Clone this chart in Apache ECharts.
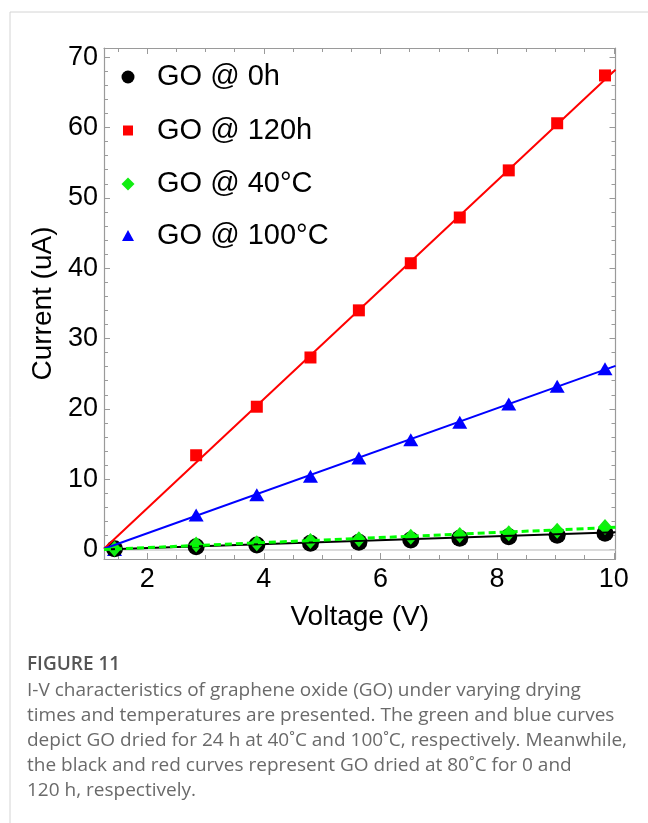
<!DOCTYPE html>
<html>
<head>
<meta charset="utf-8">
<script src="https://cdn.jsdelivr.net/npm/echarts@6/dist/echarts.min.js"></script>
<style>
html,body{margin:0;padding:0;background:#fff;}
#chart{width:648px;height:823px;}
</style>
</head>
<body>
<div id="chart"></div>
<script>
// ---- data ----
const voltage = [1.44, 2.84, 3.88, 4.80, 5.63, 6.52, 7.36, 8.20, 9.03, 9.85];
const go0h   = [0.1, 0.4, 0.64, 0.88, 1.02, 1.35, 1.6, 1.82, 2.02, 2.3];
const go120h = [0, 13.4, 20.3, 27.3, 34.0, 40.7, 47.2, 53.9, 60.6, 67.4];
const go40C  = [0.1, 0.7, 0.9, 1.2, 1.45, 1.82, 2.06, 2.3, 2.67, 3.2];
const go100C = [0, 4.9, 7.8, 10.4, 13.0, 15.6, 18.1, 20.7, 23.2, 25.7];
// linear fits (values at the two ends of the voltage range)
const fitVoltage = [1.26, 10.03];
const fit0h   = [0.0, 2.45];
const fit120h = [0.1, 68.2];
const fit40C  = [0.0, 3.15];
const fit100C = [0.1, 26.1];
const seriesNames = ['GO @ 0h', 'GO @ 120h', 'GO @ 40°C', 'GO @ 100°C'];
const xMajorTicks = [2, 4, 6, 8, 10];
const xMinorTicks = [1.5, 2, 2.5, 3, 3.5, 4, 4.5, 5, 5.5, 6, 6.5, 7, 7.5, 8, 8.5, 9, 9.5, 10];
const yMajorTicks = [0, 10, 20, 30, 40, 50, 60, 70];
const yMinorTicks = [0, 2, 4, 6, 8, 10, 12, 14, 16, 18, 20, 22, 24, 26, 28, 30, 32, 34, 36, 38, 40, 42, 44, 46, 48, 50, 52, 54, 56, 58, 60, 62, 64, 66, 68, 70];
const xTitle = 'Voltage (V)';
const yTitle = 'Current (uA)';
const captionTitle = 'FIGURE 11';
const captionLines = [
  'I-V characteristics of graphene oxide (GO) under varying drying',
  'times and temperatures are presented. The green and blue curves',
  'depict GO dried for 24 h at 40˚C and 100˚C, respectively. Meanwhile,',
  'the black and red curves represent GO dried at 80˚C for 0 and',
  '120 h, respectively.'
];

// ---- chart ----
const pair = (xs, ys) => xs.map((x, i) => [x, ys[i]]);
const FONT = 'Liberation Sans, Arial, sans-serif';
const FRAME = '#9a9a9a';
const XMIN = 1.26, XMAX = 10.03, YMIN = -1.35, YMAX = 71.3;

function xAx(pos, ticks, len, showLine, showLabel, extra) {
  return Object.assign({
    type: 'value', position: pos, min: XMIN, max: XMAX, gridIndex: 0,
    axisLine: { show: showLine, onZero: false, lineStyle: { color: FRAME, width: 1.2 } },
    axisTick: { show: true, inside: true, length: len, customValues: ticks, lineStyle: { color: FRAME, width: 1 } },
    axisLabel: showLabel ? { customValues: xMajorTicks, fontSize: 27, fontFamily: FONT, color: '#000', margin: 7 } : { show: false },
    splitLine: { show: false }
  }, extra || {});
}
function yAx(pos, ticks, len, showLine, showLabel, extra) {
  return Object.assign({
    type: 'value', position: pos, min: YMIN, max: YMAX, gridIndex: 0,
    axisLine: { show: showLine, onZero: false, lineStyle: { color: FRAME, width: 1.2 } },
    axisTick: { show: true, inside: true, length: len, customValues: ticks, lineStyle: { color: FRAME, width: 1 } },
    axisLabel: showLabel ? { customValues: yMajorTicks, fontSize: 27, fontFamily: FONT, color: '#000', margin: 6 } : { show: false },
    splitLine: { show: false }
  }, extra || {});
}

const legendDefs = [
  { name: seriesNames[0], icon: 'circle', w: 13, h: 13, top: 58 },
  { name: seriesNames[1], icon: 'rect', w: 10, h: 10, top: 111.5 },
  { name: seriesNames[2], icon: 'diamond', w: 13, h: 13, top: 165 },
  { name: seriesNames[3], icon: 'triangle', w: 12, h: 11, top: 216.5 }
];
const legends = legendDefs.map(d => ({
  data: [{ name: d.name, icon: d.icon }],
  left: 128 - d.w / 2, top: d.top, padding: 0,
  itemWidth: d.w, itemHeight: d.h, selectedMode: false,
  itemStyle: { opacity: 1 },
  textStyle: { fontSize: 29, fontFamily: FONT, color: '#000', lineHeight: 30, padding: [0, 0, 8, 24 - d.w / 2] }
}));

const graphics = [
  { type: 'line', shape: { x1: 10, y1: 12, x2: 648, y2: 12 }, style: { stroke: '#d4d4d4', lineWidth: 1 }, silent: true },
  { type: 'line', shape: { x1: 10, y1: 12, x2: 10, y2: 823 }, style: { stroke: '#d4d4d4', lineWidth: 1 }, silent: true },
  { type: 'text', left: 27, top: 655, style: { text: captionTitle, font: '600 19px "Open Sans", sans-serif', fill: '#555' } }
];
captionLines.forEach((t, i) => {
  graphics.push({ type: 'text', left: 27, top: 681 + i * 25, style: { text: t, font: '19px "Open Sans", sans-serif', fill: '#6a6a6a' } });
});

const option = {
  animation: false,
  backgroundColor: '#fff',
  grid: { left: 104, top: 48, width: 511.5, height: 511, containLabel: false },
  legend: legends,
  graphic: graphics,
  xAxis: [
    xAx('bottom', xMajorTicks, 6, true, true, {
      name: xTitle, nameLocation: 'middle', nameGap: 44,
      nameTextStyle: { fontSize: 28, fontFamily: FONT, color: '#000' }
    }),
    xAx('bottom', xMinorTicks, 4, false, false),
    xAx('top', xMajorTicks, 6, true, false),
    xAx('top', xMinorTicks, 4, false, false)
  ],
  yAxis: [
    yAx('left', yMajorTicks, 6, true, true, {
      name: yTitle, nameLocation: 'middle', nameGap: 44, nameRotate: 90,
      nameTextStyle: { fontSize: 28, fontFamily: FONT, color: '#000' }
    }),
    yAx('left', yMinorTicks, 4, false, false),
    yAx('right', yMajorTicks, 6, true, false),
    yAx('right', yMinorTicks, 4, false, false)
  ],
  series: [
    { name: seriesNames[1], type: 'scatter', data: pair(voltage, go120h), symbol: 'rect', symbolSize: 12,
      itemStyle: { color: '#ff0000', opacity: 1 }, z: 3,
      markLine: { silent: true, symbol: 'none', label: { show: false }, lineStyle: { color: '#cfcfcf', width: 1.5, type: 'solid' }, data: [{ yAxis: 0 }], z: 1 } },
    { name: seriesNames[3], type: 'scatter', data: pair(voltage, go100C), symbol: 'triangle', symbolSize: [15, 13],
      itemStyle: { color: '#0000ff', opacity: 1 }, z: 3 },
    { name: seriesNames[0], type: 'scatter', data: pair(voltage, go0h), symbol: 'circle', symbolSize: 17,
      itemStyle: { color: '#000', opacity: 1 }, z: 3 },
    { name: seriesNames[2], type: 'scatter', data: pair(voltage, go40C), symbol: 'diamond', symbolSize: [14, 16],
      itemStyle: { color: '#11ee11', opacity: 1 }, z: 4 },
    { name: 'fit120h', type: 'line', data: pair(fitVoltage, fit120h), symbol: 'none', lineStyle: { color: '#ff0000', width: 2 }, z: 5 },
    { name: 'fit100C', type: 'line', data: pair(fitVoltage, fit100C), symbol: 'none', lineStyle: { color: '#0000ff', width: 2 }, z: 5 },
    { name: 'fit0h', type: 'line', data: pair(fitVoltage, fit0h), symbol: 'none', lineStyle: { color: '#000', width: 2 }, z: 5 },
    { name: 'fit40C', type: 'line', data: pair(fitVoltage, fit40C), symbol: 'none', lineStyle: { color: '#00ff00', width: 3, type: [7, 4] }, z: 6 }
  ]
};

const chart = echarts.init(document.getElementById('chart'), null, { renderer: 'canvas' });
chart.setOption(option);
</script>
</body>
</html>
